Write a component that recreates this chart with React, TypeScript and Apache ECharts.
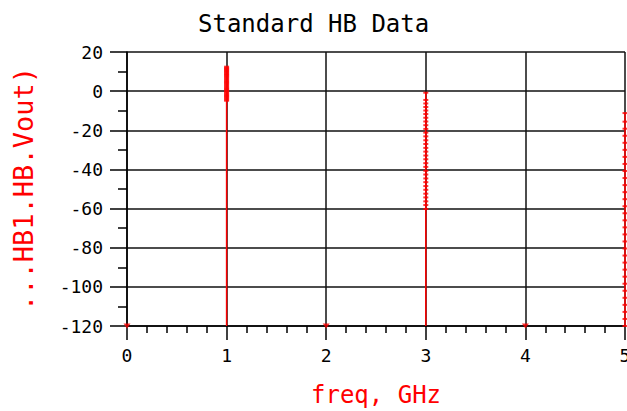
import React, { useEffect, useRef } from "react";
import * as echarts from "echarts";

const titleText = "Standard HB Data";
const xAxisName = "freq, GHz";
const yAxisName = "...HB1.HB.Vout)";

// frequency grid (GHz)
const xMin = 0;
const xMax = 5;
const yMin = -120;
const yMax = 20;

// swept spectrum values (dB)
const fundamentalFreq = 1;
const fundamental = [
  -4.9, -4.3, -3.7, -3.1, -2.5, -1.9, -1.3, -0.7, -0.1, 0.5, 1.1, 1.7, 2.3, 2.9, 3.5, 4.1,
  4.7, 5.3, 5.9, 6.5, 7.1, 7.7, 8.3, 8.8, 9.4, 9.9, 10.4, 10.9, 11.4, 11.9, 12.5,
];
const thirdFreq = 3;
const third = [
  -60.2, -58.2, -56.3, -54.3, -52.4, -50.4, -48.5, -46.5, -44.6, -42.6, -40.7, -38.7, -36.8,
  -34.8, -32.9, -30.9, -29.0, -27.0, -25.1, -23.1, -21.2, -19.3, -17.4, -15.5, -13.6, -11.7,
  -9.9, -8.1, -6.3, -4.5, -0.8,
];
const fifthFreq = 5;
const fifth = [
  -120, -116.4, -112.8, -109.2, -105.6, -102.0, -98.4, -94.8, -91.2, -87.6, -84.0, -80.4,
  -76.8, -73.2, -69.6, -66.0, -62.4, -58.8, -55.2, -51.6, -48.0, -44.4, -40.8, -37.2, -33.6,
  -30.0, -26.4, -22.8, -19.2, -15.6, -11.2,
];
// even harmonics & DC: below the plotted floor
const floorFreqs = [0, 2, 4];
const floorValues = [-120, -120, -120];

const RED = "#ff0000";
const MONO = "DejaVu Sans Mono";

export default function App() {
  const ref = useRef<HTMLDivElement>(null);
  useEffect(() => {
    if (!ref.current) return;
    const chart = echarts.init(ref.current, null, { renderer: "svg" });
    const harmonics: [number, number[]][] = [
      [fundamentalFreq, fundamental],
      [thirdFreq, third],
      [fifthFreq, fifth],
    ];
    const stemSeries = harmonics.map(([f, vals]) => ({
      type: "line",
      data: [
        [f, yMin],
        [f, Math.max(...vals)],
      ],
      symbol: "none",
      lineStyle: { color: RED, width: 1.5 },
      silent: true,
      z: 3,
    }));
    const markerSeries = harmonics.map(([f, vals]) => ({
      type: "scatter",
      data: vals.map((v) => [f, v]),
      symbol: "rect",
      symbolSize: [5, 2],
      itemStyle: { color: RED },
      clip: false,
      z: 4,
    }));
    chart.setOption({
      animation: false,
      backgroundColor: "#ffffff",
      title: {
        text: titleText,
        left: 193,
        top: 7,
        textStyle: { fontFamily: MONO, fontSize: 24, fontWeight: "normal", color: "#000" },
      },
      grid: { left: 127, right: 2, top: 52, bottom: 85, outerBoundsMode: "none", containLabel: false },
      xAxis: {
        type: "value",
        min: xMin,
        max: xMax,
        interval: 1,
        name: xAxisName,
        nameLocation: "middle",
        nameGap: 57,
        nameTextStyle: { fontFamily: MONO, fontSize: 24, color: RED },
        axisLine: { show: true, onZero: false, lineStyle: { color: "#000", width: 1.5 } },
        axisTick: { show: true, inside: false, length: 14, lineStyle: { color: "#000", width: 1.5 } },
        minorTick: { show: true, splitNumber: 5, length: 7, lineStyle: { color: "#000", width: 1.5 } },
        axisLabel: { fontFamily: MONO, fontSize: 18, color: "#000", margin: 20 },
        splitLine: { show: true, lineStyle: { color: "#111", width: 1.5 } },
      },
      yAxis: {
        type: "value",
        min: yMin,
        max: yMax,
        interval: 20,
        name: yAxisName,
        nameLocation: "middle",
        nameRotate: 90,
        nameGap: 90,
        nameTextStyle: { fontFamily: MONO, fontSize: 27, color: RED },
        axisLine: { show: true, onZero: false, lineStyle: { color: "#000", width: 1.5 } },
        axisTick: { show: true, inside: false, length: 17, lineStyle: { color: "#000", width: 1.5 } },
        minorTick: { show: true, splitNumber: 2, length: 9, lineStyle: { color: "#000", width: 1.5 } },
        axisLabel: { fontFamily: MONO, fontSize: 18, color: "#000", margin: 24 },
        splitLine: { show: true, lineStyle: { color: "#111", width: 1.5 } },
      },
      series: [
        ...stemSeries,
        ...markerSeries,
        {
          type: "scatter",
          data: floorFreqs.map((f, i) => [f, floorValues[i]]),
          symbol: "triangle",
          symbolRotate: 180,
          symbolSize: [7, 5],
          itemStyle: { color: RED },
          clip: false,
          z: 4,
        },
      ],
    });
    return () => chart.dispose();
  }, []);
  return (
    <div
      ref={ref}
      style={{ position: "fixed", left: 0, top: 0, width: 627, height: 411, background: "#fff" }}
    />
  );
}
